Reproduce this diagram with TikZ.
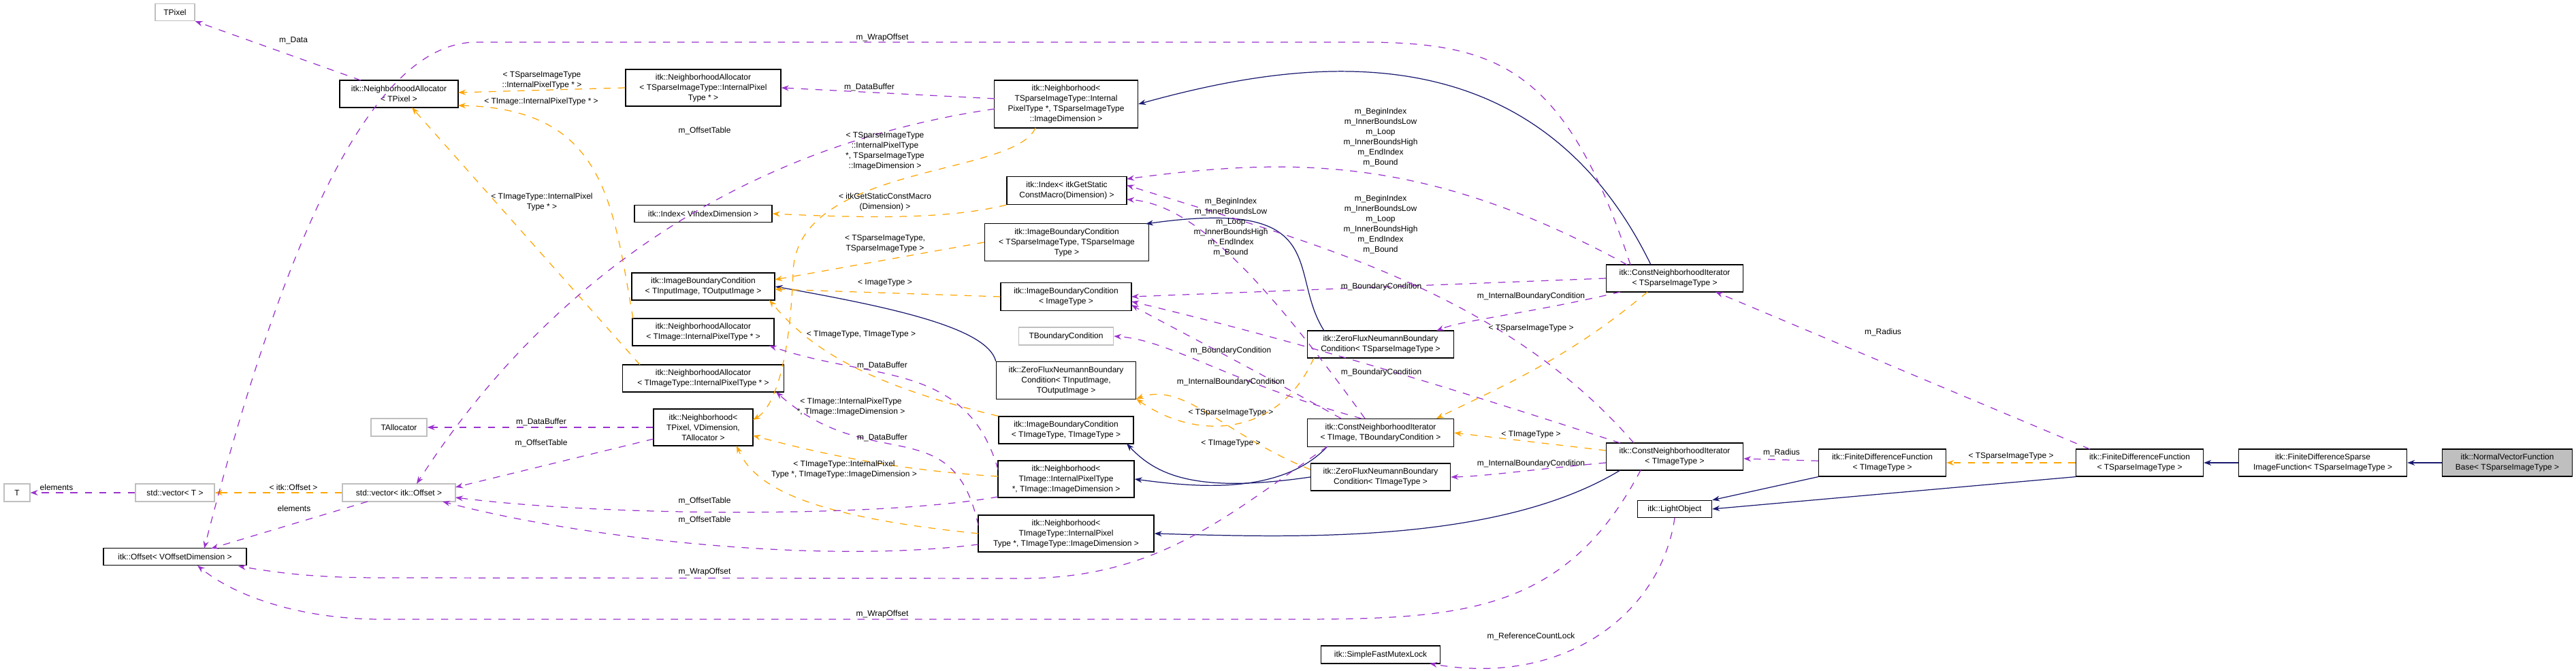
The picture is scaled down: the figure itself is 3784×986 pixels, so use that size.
\documentclass[tikz,border=0pt]{standalone}
\usepackage{fontspec}
\setmainfont{Liberation Sans}
\usetikzlibrary{arrows.meta}
\definecolor{usecol}{HTML}{9A32CD}
\definecolor{tmplcol}{HTML}{FFA500}
\definecolor{inhcol}{HTML}{191970}
\definecolor{extcol}{HTML}{BFBFBF}
\begin{document}
\begin{tikzpicture}[x=0.01cm, y=-0.01cm, >={Stealth[length=0.11cm,width=0.08cm]}]
        \tikzstyle{cls}=[draw, line width=0.35pt, fill=white, align=center, inner sep=0.5pt, font=\fontsize{3.4}{4.25}\selectfont]
        \tikzstyle{ext}=[cls, draw=extcol]
        \tikzstyle{lbl}=[align=center, inner sep=0pt, text=black, font=\fontsize{3.4}{4.25}\selectfont]
        \tikzstyle{use}=[->, usecol, dashed, line width=0.35pt]
        \tikzstyle{tmpl}=[->, tmplcol, dashed, line width=0.35pt]
        \tikzstyle{inh}=[->, inhcol, line width=0.35pt]

        \useasboundingbox (0,0) rectangle (3784,986);

        % left part
        \node[ext, minimum width=0.58cm, minimum height=0.25cm](tpixel) at (257,18){TPixel};
        \node[cls, minimum width=1.74cm, minimum height=0.4cm](naTP) at (586,138){itk::NeighborhoodAllocator\\< TPixel >};
        \node[cls, minimum width=2.28cm, minimum height=0.54cm](naSp) at (1033,129){itk::NeighborhoodAllocator\\< TSparseImageType::InternalPixel\\Type * >};
        \node[cls, minimum width=2.02cm, minimum height=0.25cm](idxV) at (1033,314){itk::Index< VIndexDimension >};
        \node[cls, minimum width=2.1cm, minimum height=0.4cm](ibcIO) at (1033,421){itk::ImageBoundaryCondition\\< TInputImage, TOutputImage >};
        \node[cls, minimum width=2.08cm, minimum height=0.4cm](naTI) at (1033,488){itk::NeighborhoodAllocator\\< TImage::InternalPixelType * >};
        \node[cls, minimum width=2.37cm, minimum height=0.4cm](naTIT) at (1033,556){itk::NeighborhoodAllocator\\< TImageType::InternalPixelType * >};
        \node[cls, minimum width=1.46cm, minimum height=0.54cm](nbhTP) at (1033,628){itk::Neighborhood<\\ TPixel, VDimension,\\ TAllocator >};
        \node[ext, minimum width=0.82cm, minimum height=0.26cm](tAlloc) at (586,628){TAllocator};
        \node[ext, minimum width=0.38cm, minimum height=0.26cm](tT) at (25,724){T};
        \node[ext, minimum width=1.16cm, minimum height=0.26cm](vecT) at (257,724){std::vector< T >};
        \node[ext, minimum width=1.66cm, minimum height=0.26cm](vecOff) at (586,724){std::vector< itk::Offset >};
        \node[cls, minimum width=2.1cm, minimum height=0.25cm](offset) at (257,818){itk::Offset< VOffsetDimension >};

        % middle part
        \node[cls, minimum width=2.11cm, minimum height=0.7cm](nbhSp) at (1566,153){itk::Neighborhood<\\ TSparseImageType::Internal\\PixelType *, TSparseImageType\\ ::ImageDimension >};
        \node[cls, minimum width=1.76cm, minimum height=0.41cm](idxG) at (1567,280){itk::Index< itkGetStatic\\ConstMacro(Dimension) >};
        \node[cls, minimum width=2.41cm, minimum height=0.55cm](ibcSp) at (1567,356){itk::ImageBoundaryCondition\\< TSparseImageType, TSparseImage\\Type >};
        \node[cls, minimum width=1.92cm, minimum height=0.41cm](ibcIT) at (1566,436){itk::ImageBoundaryCondition\\< ImageType >};
        \node[ext, minimum width=1.39cm, minimum height=0.26cm](tBC) at (1566,494){TBoundaryCondition};
        \node[cls, minimum width=2.05cm, minimum height=0.55cm](zfnIO) at (1566,559){itk::ZeroFluxNeumannBoundary\\Condition< TInputImage,\\ TOutputImage >};
        \node[cls, minimum width=1.98cm, minimum height=0.4cm](ibcTT) at (1566,632){itk::ImageBoundaryCondition\\< TImageType, TImageType >};
        \node[cls, minimum width=2.0cm, minimum height=0.54cm](nbhTI) at (1566,704){itk::Neighborhood<\\ TImage::InternalPixelType\\ *, TImage::ImageDimension >};
        \node[cls, minimum width=2.58cm, minimum height=0.54cm](nbhTIT) at (1566,784){itk::Neighborhood<\\ TImageType::InternalPixel\\Type *, TImageType::ImageDimension >};
        \node[cls, minimum width=2.15cm, minimum height=0.4cm](zfnSp) at (2028,506){itk::ZeroFluxNeumannBoundary\\Condition< TSparseImageType >};
        \node[cls, minimum width=2.15cm, minimum height=0.41cm](cniTB) at (2028,636){itk::ConstNeighborhoodIterator\\< TImage, TBoundaryCondition >};
        \node[cls, minimum width=2.05cm, minimum height=0.4cm](zfnTT) at (2028,701){itk::ZeroFluxNeumannBoundary\\Condition< TImageType >};
        \node[cls, minimum width=1.75cm, minimum height=0.26cm](mutex) at (2028,962){itk::SimpleFastMutexLock};

        % right part
        \node[cls, minimum width=2.01cm, minimum height=0.4cm](cniSp) at (2460,409){itk::ConstNeighborhoodIterator\\< TSparseImageType >};
        \node[cls, minimum width=2.01cm, minimum height=0.4cm](cniTT) at (2460,671){itk::ConstNeighborhoodIterator\\< TImageType >};
        \node[cls, minimum width=1.09cm, minimum height=0.25cm](light) at (2460,748){itk::LightObject};
        \node[cls, minimum width=1.87cm, minimum height=0.4cm](fdfTT) at (2765,680){itk::FiniteDifferenceFunction\\< TImageType >};
        \node[cls, minimum width=1.87cm, minimum height=0.4cm](fdfSp) at (3143,680){itk::FiniteDifferenceFunction\\< TSparseImageType >};
        \node[cls, minimum width=2.47cm, minimum height=0.4cm](fdsp) at (3412,680){itk::FiniteDifferenceSparse\\ImageFunction< TSparseImageType >};
        \node[cls, fill=extcol, minimum width=1.91cm, minimum height=0.4cm](nvfb) at (3683,680){itk::NormalVectorFunction\\Base< TSparseImageType >};

        % inheritance
        \draw[inh] (nvfb) -- (fdsp);
        \draw[inh] (fdsp) -- (fdfSp);
        \draw[inh] (fdfSp.south west) -- (light.east);
        \draw[inh] (fdfTT.south west) -- (light.north east);
        \draw[inh] (2425,389) .. controls (2250,30) and (1900,90) .. (nbhSp.east);
        \draw[inh] (2380,691) .. controls (2200,800) and (1900,790) .. (nbhTIT.east);
        \draw[inh] (1950,656) .. controls (1880,730) and (1750,715) .. (nbhTI.east);
        \draw[inh] (zfnTT.west) .. controls (1760,725) and (1700,700) .. (1655,652);
        \draw[inh] (zfnIO.north west) .. controls (1450,480) and (1300,450) .. (ibcIO.east);
        \draw[inh] (1945,486) .. controls (1890,400) and (1960,290) .. (1683,329);

        % templates
        \draw[tmpl] (fdfSp) -- node[lbl, above=1pt](lSp1){< TSparseImageType >} (fdfTT);
        \draw[tmpl] (2420,429) .. controls (2300,530) and (2200,570) .. (2110,615);
        \draw[tmpl] (2359,662) -- (cniTB.east);
        \draw[tmpl] (1930,526) .. controls (1880,640) and (1760,650) .. (1669,586);
        \draw[tmpl] (1925,690) .. controls (1800,640) and (1740,560) .. (1669,586);
        \draw[tmpl] (ibcSp.west) -- (1138,411);
        \draw[tmpl] (ibcIT.west) -- (1138,425);
        \draw[tmpl] (ibcTT.north west) .. controls (1250,560) and (1180,500) .. (1130,441);
        \draw[tmpl] (1521,188) .. controls (1490,260) and (1170,240) .. (1165,400) .. controls (1160,540) and (1135,600) .. (1106,617);
        \draw[tmpl] (1466,700) .. controls (1300,690) and (1180,660) .. (1106,640);
        \draw[tmpl] (1437,784) .. controls (1200,760) and (1110,720) .. (1082,655);
        \draw[tmpl] (idxG.south west) .. controls (1400,320) and (1300,322) .. (idxV.east);
        \draw[tmpl] (naSp.west) -- (673,136);
        \draw[tmpl] (930,468) .. controls (900,300) and (890,160) .. (673,155);
        \draw[tmpl] (940,536) -- (605,158);
        \draw[tmpl] (vecOff) -- (vecT);

        % members
        \draw[use] (fdfTT) -- (cniTT);
        \draw[use] (3070,660) -- (2520,429);
        \draw[use] (light.south) .. controls (2440,900) and (2300,1010) .. (2100,975);
        \draw[use] (530,118) -- (tpixel.south east);
        \draw[use] (1461,145) -- (naSp.east);
        \draw[use] (1461,160) .. controls (1050,220) and (780,450) .. (612,711);
        \draw[use] (2395,389) .. controls (2300,100) and (2200,62) .. (2000,62) -- (700,62) .. controls (560,62) and (430,300) .. (300,806);
        \draw[use] (2410,691) .. controls (2300,900) and (2150,910) .. (1900,910) -- (560,910) .. controls (450,910) and (350,880) .. (290,831);
        \draw[use] (1950,656) .. controls (1800,760) and (1700,850) .. (1500,850) -- (560,849) .. controls (450,849) and (400,840) .. (350,832);
        \draw[use] (540,737) -- (310,806);
        \draw[use] (vecT) -- (tT);
        \draw[use] (nbhTP.west) -- (tAlloc);
        \draw[use] (960,645) -- (669,716);
        \draw[use] (1466,730) .. controls (1300,760) and (900,760) .. (669,731);
        \draw[use] (1437,800) .. controls (1200,830) and (850,790) .. (650,737);
        \draw[use] (1466,690) .. controls (1420,530) and (1280,560) .. (1130,508);
        \draw[use] (1437,772) .. controls (1400,600) and (1280,700) .. (1140,576);
        \draw[use] (2390,389) .. controls (2100,230) and (1900,230) .. (1655,263);
        \draw[use] (2400,651) .. controls (2200,420) and (1900,350) .. (1655,272);
        \draw[use] (2005,615) .. controls (1850,400) and (1750,300) .. (1655,293);
        \draw[use] (cniSp.west) -- (1662,436);
        \draw[use] (2380,429) .. controls (2250,460) and (2150,470) .. (2110,486);
        \draw[use] (2000,615) .. controls (1800,560) and (1720,500) .. (tBC.east);
        \draw[use] (1970,615) .. controls (1800,520) and (1700,470) .. (1662,448);
        \draw[use] (2380,651) .. controls (2100,560) and (1900,500) .. (1662,443);
        \draw[use] (2359,680) .. controls (2250,690) and (2180,700) .. (zfnTT.east);

        % labels
        \node[lbl](l1) at (431,60){m\_Data};
        \node[lbl](l2) at (796,118){< TSparseImageType\\::InternalPixelType * >};
        \node[lbl](l3) at (795,149){< TImage::InternalPixelType * >};
        \node[lbl](l4) at (796,297){< TImageType::InternalPixel\\Type * >};
        \node[lbl](l5) at (1035,192){m\_OffsetTable};
        \node[lbl](l6) at (1277,128){m\_DataBuffer};
        \node[lbl](l7) at (1296,55){m\_WrapOffset};
        \node[lbl](l8) at (1300,222){< TSparseImageType\\::InternalPixelType\\*, TSparseImageType\\::ImageDimension >};
        \node[lbl](l9) at (1300,297){< itkGetStaticConstMacro\\(Dimension) >};
        \node[lbl](l10) at (1300,358){< TSparseImageType,\\TSparseImageType >};
        \node[lbl](l11) at (1300,416){< ImageType >};
        \node[lbl](l12) at (1265,492){< TImageType, TImageType >};
        \node[lbl](l13) at (1296,537){m\_DataBuffer};
        \node[lbl](l14) at (1250,598){< TImage::InternalPixelType\\*, TImage::ImageDimension >};
        \node[lbl](l15) at (1296,643){m\_DataBuffer};
        \node[lbl](l16) at (1240,690){< TImageType::InternalPixel\\Type *, TImageType::ImageDimension >};
        \node[lbl](l17) at (83,716){elements};
        \node[lbl](l18) at (431,716){< itk::Offset >};
        \node[lbl](l19) at (432,747){elements};
        \node[lbl](l20) at (795,620){m\_DataBuffer};
        \node[lbl](l21) at (795,651){m\_OffsetTable};
        \node[lbl](l22) at (1035,736){m\_OffsetTable};
        \node[lbl](l23) at (1035,764){m\_OffsetTable};
        \node[lbl](l24) at (1035,840){m\_WrapOffset};
        \node[lbl](l25) at (1296,902){m\_WrapOffset};
        \node[lbl](l26) at (2028,202){m\_BeginIndex\\m\_InnerBoundsLow\\m\_Loop\\m\_InnerBoundsHigh\\m\_EndIndex\\m\_Bound};
        \node[lbl](l27) at (2028,330){m\_BeginIndex\\m\_InnerBoundsLow\\m\_Loop\\m\_InnerBoundsHigh\\m\_EndIndex\\m\_Bound};
        \node[lbl](l28) at (1808,334){m\_BeginIndex\\m\_InnerBoundsLow\\m\_Loop\\m\_InnerBoundsHigh\\m\_EndIndex\\m\_Bound};
        \node[lbl](l29) at (2029,421){m\_BoundaryCondition};
        \node[lbl](l30) at (2249,435){m\_InternalBoundaryCondition};
        \node[lbl](l31) at (2249,483){< TSparseImageType >};
        \node[lbl](l32) at (1808,515){m\_BoundaryCondition};
        \node[lbl](l33) at (2029,547){m\_BoundaryCondition};
        \node[lbl](l34) at (1808,561){m\_InternalBoundaryCondition};
        \node[lbl](l35) at (1808,607){< TSparseImageType >};
        \node[lbl](l36) at (1808,652){< TImageType >};
        \node[lbl](l37) at (2249,639){< TImageType >};
        \node[lbl](l38) at (2249,681){m\_InternalBoundaryCondition};
        \node[lbl](l39) at (2249,935){m\_ReferenceCountLock};
        \node[lbl](l40) at (2766,488){m\_Radius};
        \node[lbl](l41) at (2617,665){m\_Radius};

\end{tikzpicture}
\end{document}
